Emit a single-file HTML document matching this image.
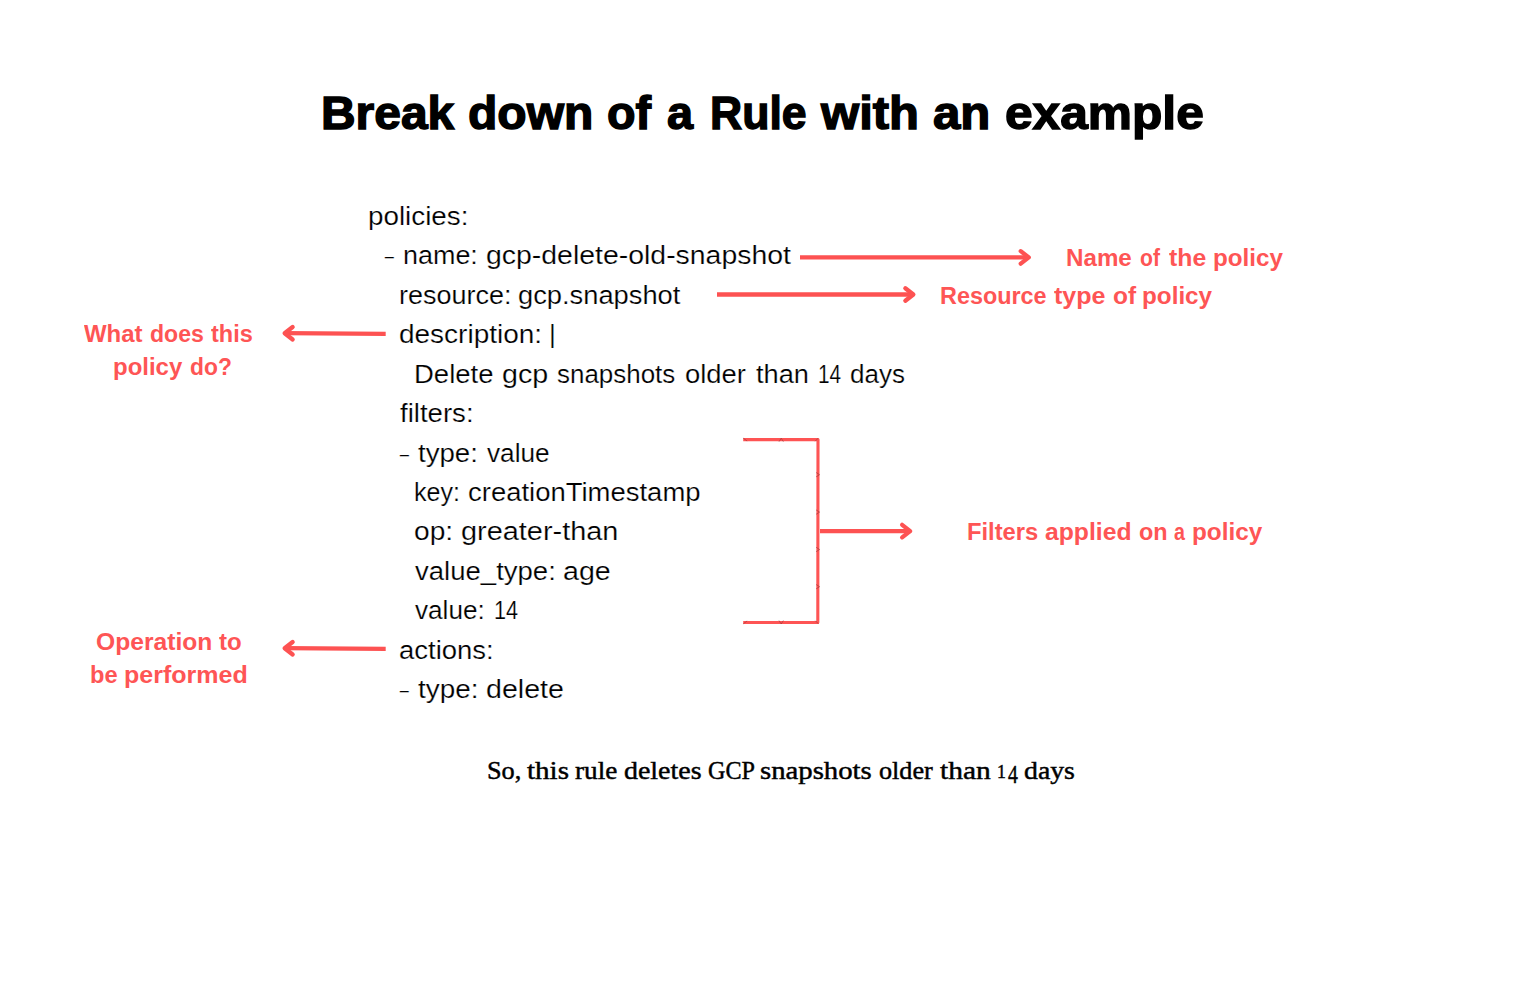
<!DOCTYPE html>
<html lang="en"><head><meta charset="utf-8"><title>Break down of a Rule with an example</title>
<style>
html,body{margin:0;padding:0;background:#fff}
body{width:1540px;height:1008px;position:relative;overflow:hidden}
.t{position:absolute;white-space:pre;line-height:1;transform-origin:0 0;margin:0}
svg{position:absolute;left:0;top:0}
.code{font-family:"Liberation Sans",sans-serif;font-size:26px;font-weight:400;color:#000;-webkit-text-stroke:0.2px #fff;word-spacing:0px}
.red{font-family:"Liberation Sans",sans-serif;font-size:23.5px;font-weight:700;color:#fe5555;word-spacing:0px}
.title{font-family:"Liberation Sans",sans-serif;font-size:46.5px;font-weight:700;color:#000;-webkit-text-stroke:1.4px #000;word-spacing:0px}
.foot{font-family:"Liberation Serif",serif;font-size:25px;font-weight:400;color:#000;-webkit-text-stroke:0.45px #000;word-spacing:0px}
</style></head><body>
<svg width="1540" height="1008" viewBox="0 0 1540 1008" fill="none" stroke="#fd5252" stroke-linecap="round" stroke-linejoin="round">
<g stroke-width="4.3">
<path d="M800 257.4L1028.75 257.4" stroke-linecap="butt"/><path d="M1020.75 251.15L1028.75 257.4L1020.75 263.65"/>
<path d="M717 294.5L913.35 294.5" stroke-linecap="butt"/><path d="M905.35 288.25L913.35 294.5L905.35 300.75"/>
<path d="M385.7 333.8L284.65 333.2" stroke-linecap="butt"/><path d="M292.65 326.95L284.65 333.2L292.65 339.45"/>
<path d="M385.7 648.8L284.65 648.2" stroke-linecap="butt"/><path d="M292.65 641.95L284.65 648.2L292.65 654.45"/>
<path d="M820 531.1L910.15 531.1" stroke-linecap="butt"/><path d="M902.15 524.85L910.15 531.1L902.15 537.35"/>
</g>
<path d="M743.2 439.6H818L817.8 622.45H743.2" stroke="#fe5454" stroke-width="3.1" stroke-linecap="butt"/>
<path d="M816.40 472.70L819.60 474.7L816.40 476.70M816.40 510.10L819.60 512.1L816.40 514.10M816.40 547.50L819.60 549.5L816.40 551.50M816.40 584.70L819.60 586.7L816.40 588.70M779.20 441.40L781.2 438.20L783.20 441.40M779.20 620.80L781.2 624.00L783.20 620.80M743.6 438.4L746.8 440.8M743.6 623.6L746.8 621.2M815.4 441L818 438.4M815.6 621L818.2 623.6" stroke="#9c3434" stroke-width="0.7" stroke-opacity="0.85"/>
</svg>
<div class="t code" style="left:368.32px;top:203.00px;transform:scaleX(1.0690)">policies:</div>
<div class="t code" style="left:382.72px;top:242.60px;transform-origin:0 15.09px;transform:scale(1.4540,0.62)">-</div>
<div class="t code" style="left:402.96px;top:242.00px;transform:scaleX(1.0357)">name:</div>
<div class="t code" style="left:485.98px;top:242.00px;transform:scaleX(1.0932)">gcp-delete-old-snapshot</div>
<div class="t code" style="left:398.72px;top:282.00px;transform:scaleX(1.0373)">resource:</div>
<div class="t code" style="left:518.48px;top:282.00px;transform:scaleX(1.0494)">gcp.snapshot</div>
<div class="t code" style="left:398.68px;top:321.00px;transform:scaleX(1.0761)">description:</div>
<div class="t code" style="left:549.44px;top:321.00px;transform:scaleX(1.0089)">|</div>
<div class="t code" style="left:414.17px;top:361.00px;transform:scaleX(1.0578)">Delete</div>
<div class="t code" style="left:501.75px;top:361.00px;transform:scaleX(1.1016)">gcp</div>
<div class="t code" style="left:557.10px;top:361.00px;transform:scaleX(0.9979)">snapshots</div>
<div class="t code" style="left:685.09px;top:361.00px;transform:scaleX(1.0534)">older</div>
<div class="t code" style="left:756.15px;top:361.00px;transform:scaleX(1.0471)">than</div>
<div class="t code" style="left:817.87px;top:361.00px;transform:scaleX(0.7979)">14</div>
<div class="t code" style="left:850.15px;top:361.00px;transform:scaleX(1.0006)">days</div>
<div class="t code" style="left:399.89px;top:400.00px;transform:scaleX(1.0610)">filters:</div>
<div class="t code" style="left:397.88px;top:440.60px;transform-origin:0 15.09px;transform:scale(1.4706,0.62)">-</div>
<div class="t code" style="left:417.84px;top:440.00px;transform:scaleX(1.0622)">type:</div>
<div class="t code" style="left:487.40px;top:440.00px;transform:scaleX(1.0082)">value</div>
<div class="t code" style="left:413.75px;top:479.00px;transform:scaleX(0.9627)">key:</div>
<div class="t code" style="left:467.80px;top:479.00px;transform:scaleX(1.0565)">creationTimestamp</div>
<div class="t code" style="left:413.62px;top:518.00px;transform:scaleX(1.0816)">op:</div>
<div class="t code" style="left:460.78px;top:518.00px;transform:scaleX(1.1114)">greater-than</div>
<div class="t code" style="left:414.71px;top:558.00px;transform:scaleX(1.0589)">value_type:</div>
<div class="t code" style="left:563.16px;top:558.00px;transform:scaleX(1.1002)">age</div>
<div class="t code" style="left:414.71px;top:597.00px;transform:scaleX(1.0056)">value:</div>
<div class="t code" style="left:493.83px;top:597.00px;transform:scaleX(0.8324)">14</div>
<div class="t code" style="left:398.74px;top:637.00px;transform:scaleX(1.0571)">actions:</div>
<div class="t code" style="left:398.27px;top:676.60px;transform-origin:0 15.09px;transform:scale(1.4410,0.62)">-</div>
<div class="t code" style="left:417.77px;top:676.00px;transform:scaleX(1.0719)">type:</div>
<div class="t code" style="left:485.80px;top:676.00px;transform:scaleX(1.0996)">delete</div>
<div class="t red" style="left:1065.97px;top:247.00px;transform:scaleX(1.0280)">Name</div>
<div class="t red" style="left:1139.50px;top:247.00px;transform:scaleX(0.8991)">of</div>
<div class="t red" style="left:1168.60px;top:247.00px;transform:scaleX(1.0546)">the</div>
<div class="t red" style="left:1212.97px;top:247.00px;transform:scaleX(1.0294)">policy</div>
<div class="t red" style="left:940.41px;top:285.00px;transform:scaleX(0.9950)">Resource</div>
<div class="t red" style="left:1053.90px;top:285.00px;transform:scaleX(1.0653)">type</div>
<div class="t red" style="left:1112.50px;top:285.00px;transform:scaleX(1.0423)">of</div>
<div class="t red" style="left:1141.57px;top:285.00px;transform:scaleX(1.0324)">policy</div>
<div class="t red" style="left:84.35px;top:323.00px;transform:scaleX(1.0199)">What</div>
<div class="t red" style="left:150.30px;top:323.00px;transform:scaleX(0.9803)">does</div>
<div class="t red" style="left:211.40px;top:323.00px;transform:scaleX(0.9998)">this</div>
<div class="t red" style="left:112.98px;top:356.00px;transform:scaleX(1.0204)">policy</div>
<div class="t red" style="left:189.90px;top:356.00px;transform:scaleX(0.9710)">do?</div>
<div class="t red" style="left:966.79px;top:521.00px;transform:scaleX(1.0093)">Filters</div>
<div class="t red" style="left:1045.20px;top:521.00px;transform:scaleX(1.0518)">applied</div>
<div class="t red" style="left:1138.65px;top:521.00px;transform:scaleX(0.9962)">on</div>
<div class="t red" style="left:1173.75px;top:521.00px;transform:scaleX(0.8357)">a</div>
<div class="t red" style="left:1192.16px;top:521.00px;transform:scaleX(1.0354)">policy</div>
<div class="t red" style="left:95.70px;top:631.00px;transform:scaleX(1.0481)">Operation</div>
<div class="t red" style="left:219.10px;top:631.00px;transform:scaleX(1.0217)">to</div>
<div class="t red" style="left:89.59px;top:664.00px;transform:scaleX(1.0055)">be</div>
<div class="t red" style="left:124.14px;top:664.00px;transform:scaleX(1.0645)">performed</div>
<div class="t title" style="left:320.88px;top:90.00px;transform:scaleX(1.0309)">Break</div>
<div class="t title" style="left:467.69px;top:90.00px;transform:scaleX(1.0324)">down</div>
<div class="t title" style="left:607.20px;top:90.00px;transform:scaleX(1.0044)">of</div>
<div class="t title" style="left:666.60px;top:90.00px;transform:scaleX(1.0073)">a</div>
<div class="t title" style="left:709.79px;top:90.00px;transform:scaleX(0.9588)">Rule</div>
<div class="t title" style="left:821.29px;top:90.00px;transform:scaleX(1.0541)">with</div>
<div class="t title" style="left:932.93px;top:90.00px;transform:scaleX(1.0572)">an</div>
<div class="t title" style="left:1004.68px;top:90.00px;transform:scaleX(1.0679)">example</div>
<div class="t foot" style="left:486.99px;top:758.00px;transform:scaleX(1.0501)">So,</div>
<div class="t foot" style="left:526.66px;top:758.00px;transform:scaleX(1.1607)">this</div>
<div class="t foot" style="left:574.94px;top:758.00px;transform:scaleX(1.0887)">rule</div>
<div class="t foot" style="left:624.35px;top:758.00px;transform:scaleX(1.1167)">deletes</div>
<div class="t foot" style="left:708.25px;top:758.00px;transform:scaleX(0.9644)">GCP</div>
<div class="t foot" style="left:760.21px;top:758.00px;transform:scaleX(1.1496)">snapshots</div>
<div class="t foot" style="left:878.94px;top:758.00px;transform:scaleX(1.0459)">older</div>
<div class="t foot" style="left:939.97px;top:758.00px;transform:scaleX(1.1798)">than</div>
<div class="t foot" style="font-size:18.5px;left:997.16px;top:763.00px;transform:scaleX(0.9586)">1</div>
<div class="t foot" style="left:1007.68px;top:762.00px;transform:scaleX(0.7881)">4</div>
<div class="t foot" style="left:1024.15px;top:758.00px;transform:scaleX(1.1110)">days</div>
</body></html>
